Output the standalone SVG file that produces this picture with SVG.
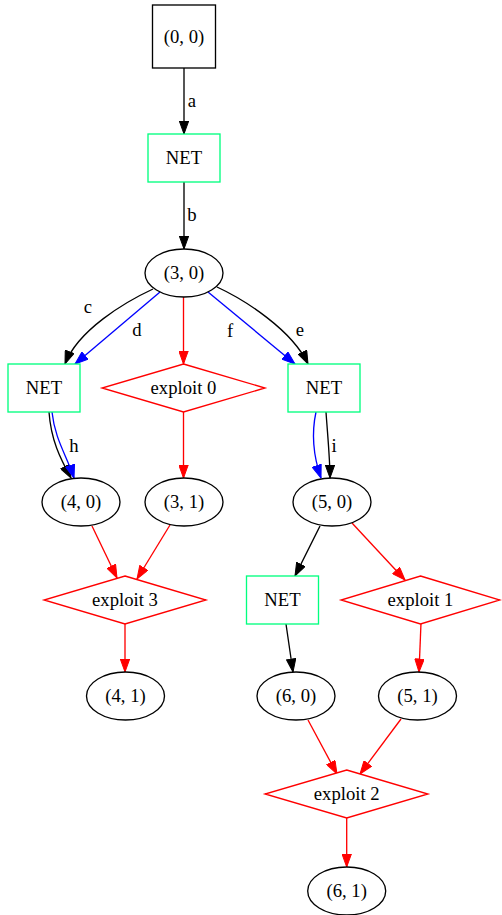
<svg xmlns="http://www.w3.org/2000/svg" width="502" height="915" viewBox="0 0 502 915">
<defs>
<style>
text{font-family:"Liberation Serif","Times New Roman",serif;font-size:18.67px;fill:#000;text-anchor:middle}
.n{fill:#fff;stroke:#000;stroke-width:1.33}
.net{fill:#fff;stroke:#00ff7f;stroke-width:1.33}
.ex{fill:#fff;stroke:#ff0000;stroke-width:1.33}
.e{fill:none;stroke-width:1.33}
.k{stroke:#000}.b{stroke:#0000ff}.r{stroke:#ff0000}
</style>
<marker id="ak" markerUnits="userSpaceOnUse" markerWidth="14" markerHeight="10" viewBox="0 -5 13 10" refX="13" refY="0" orient="auto"><path d="M0,-4.7L13,0L0,4.7Z" fill="#000" stroke="#000"/></marker>
<marker id="ab" markerUnits="userSpaceOnUse" markerWidth="14" markerHeight="10" viewBox="0 -5 13 10" refX="13" refY="0" orient="auto"><path d="M0,-4.7L13,0L0,4.7Z" fill="#0000ff" stroke="#0000ff"/></marker>
<marker id="ar" markerUnits="userSpaceOnUse" markerWidth="14" markerHeight="10" viewBox="0 -5 13 10" refX="13" refY="0" orient="auto"><path d="M0,-4.7L13,0L0,4.7Z" fill="#ff0000" stroke="#ff0000"/></marker>
</defs>
<rect width="502" height="915" fill="#fff"/>
<g id="edges">
<path class="e k" d="M184,68L184,134" marker-end="url(#ak)"/>
<text x="192" y="107">a</text>
<path class="e k" d="M184,182L184,249" marker-end="url(#ak)"/>
<text x="192" y="221">b</text>
<path class="e k" d="M153,289C125,302 78,330 65,364" marker-end="url(#ak)"/>
<text x="88" y="313">c</text>
<path class="e b" d="M160,292L75,364" marker-end="url(#ab)"/>
<text x="137" y="336">d</text>
<path class="e r" d="M183.5,297L183.5,364" marker-end="url(#ar)"/>
<path class="e b" d="M208,292L295,364" marker-end="url(#ab)"/>
<text x="230" y="337">f</text>
<path class="e k" d="M217,287C245,300 292,330 308,364" marker-end="url(#ak)"/>
<text x="300" y="336">e</text>
<path class="e k" d="M49,412C51,440 60,458 71,478" marker-end="url(#ak)"/>
<path class="e b" d="M52,412C55,440 67,456 74,478" marker-end="url(#ab)"/>
<text x="74" y="452">h</text>
<path class="e b" d="M316,412C311,435 313,455 321,478" marker-end="url(#ab)"/>
<path class="e k" d="M326,412C328,440 330,460 330,478" marker-end="url(#ak)"/>
<text x="334" y="452">i</text>
<path class="e r" d="M183.5,412L183.5,478" marker-end="url(#ar)"/>
<path class="e r" d="M92,526L117,578" marker-end="url(#ar)"/>
<path class="e r" d="M170,525L137,579" marker-end="url(#ar)"/>
<path class="e r" d="M125,624L125,672" marker-end="url(#ar)"/>
<path class="e k" d="M320,526L295,576" marker-end="url(#ak)"/>
<path class="e r" d="M352,523L405,580" marker-end="url(#ar)"/>
<path class="e k" d="M286,624L293,672" marker-end="url(#ak)"/>
<path class="e r" d="M421,623L419,672" marker-end="url(#ar)"/>
<path class="e r" d="M308,720L337,774" marker-end="url(#ar)"/>
<path class="e r" d="M401,719L360,774" marker-end="url(#ar)"/>
<path class="e r" d="M346.7,818L346.7,867" marker-end="url(#ar)"/>
</g>
<g id="n00"><rect class="n" x="152.5" y="5" width="63" height="63"/><text x="184" y="42.5">(0, 0)</text></g>
<g id="net1"><rect class="net" x="148" y="134" width="72" height="48"/><text x="184" y="164">NET</text></g>
<g id="n30"><ellipse class="n" cx="184" cy="273" rx="39" ry="24"/><text x="184" y="279">(3, 0)</text></g>
<g id="net2"><rect class="net" x="8" y="364" width="72" height="48"/><text x="44" y="394">NET</text></g>
<g id="ex0"><path class="ex" d="M183.5,364L265,388L183.5,412L102,388Z"/><text x="183.5" y="394">exploit 0</text></g>
<g id="net3"><rect class="net" x="288" y="364" width="72" height="48"/><text x="324" y="394">NET</text></g>
<g id="n40"><ellipse class="n" cx="81" cy="502" rx="39" ry="24"/><text x="81" y="508">(4, 0)</text></g>
<g id="n31"><ellipse class="n" cx="184" cy="502" rx="39" ry="24"/><text x="184" y="508">(3, 1)</text></g>
<g id="n50"><ellipse class="n" cx="332" cy="502" rx="39" ry="24"/><text x="332" y="508">(5, 0)</text></g>
<g id="ex3"><path class="ex" d="M125,576L206,600L125,624L44,600Z"/><text x="125" y="606">exploit 3</text></g>
<g id="net4"><rect class="net" x="246.5" y="576" width="72" height="48"/><text x="282.5" y="606">NET</text></g>
<g id="ex1"><path class="ex" d="M420.5,576L500,600L420.5,624L341,600Z"/><text x="420.5" y="606">exploit 1</text></g>
<g id="n41"><ellipse class="n" cx="125.5" cy="696" rx="39" ry="24"/><text x="125.5" y="702">(4, 1)</text></g>
<g id="n60"><ellipse class="n" cx="296" cy="696" rx="39" ry="24"/><text x="296" y="702">(6, 0)</text></g>
<g id="n51"><ellipse class="n" cx="417.5" cy="696" rx="39" ry="24"/><text x="417.5" y="702">(5, 1)</text></g>
<g id="ex2"><path class="ex" d="M346.7,770L428,794L346.7,818L265,794Z"/><text x="346.7" y="800">exploit 2</text></g>
<g id="n61"><ellipse class="n" cx="346.7" cy="891" rx="39" ry="24"/><text x="346.7" y="897">(6, 1)</text></g>
</svg>
